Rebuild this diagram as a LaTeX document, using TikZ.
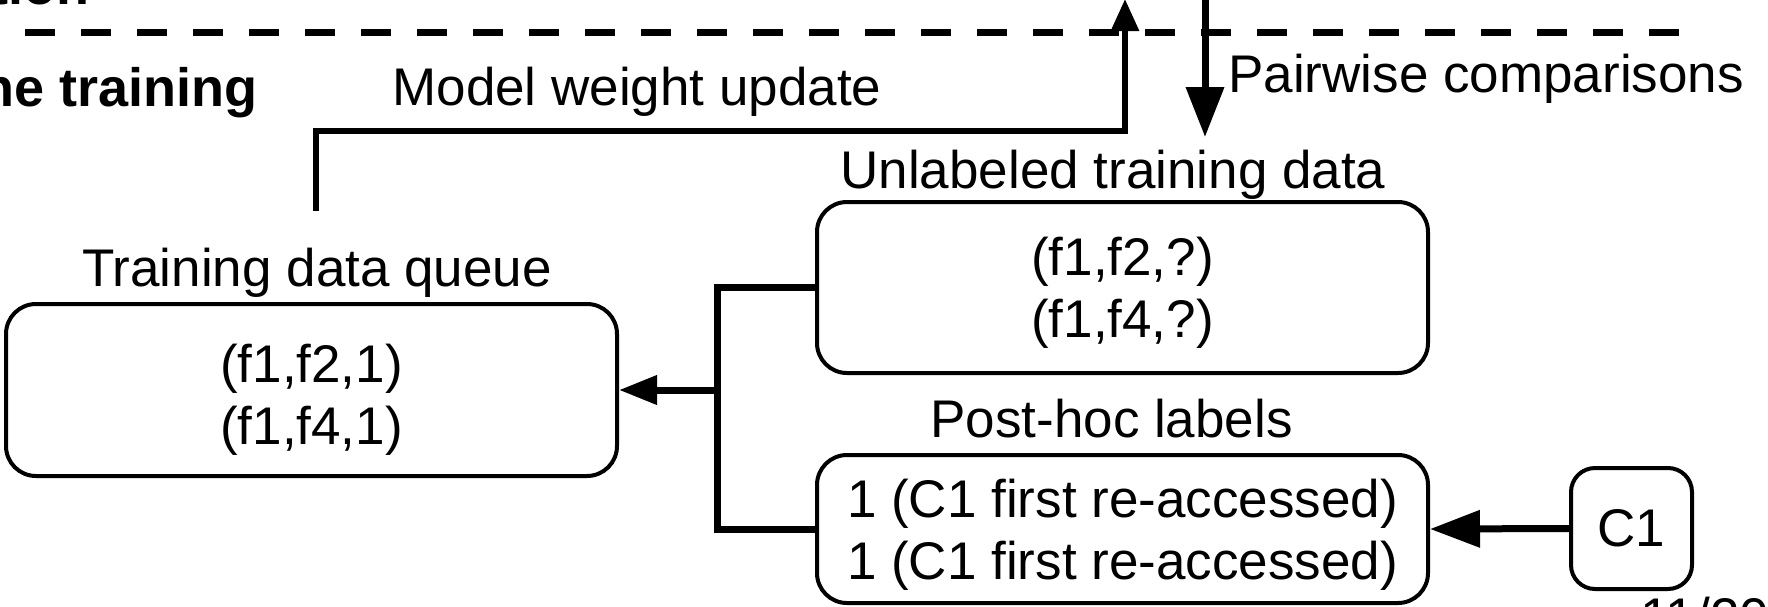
\documentclass[tikz,border=0pt]{standalone}
\usepackage{fontspec}
\setmainfont{Liberation Sans}
\usetikzlibrary{arrows.meta}
\newcommand\diagfont{\fontsize{26.5pt}{31pt}\selectfont}
\newcommand\headfont{\fontsize{27pt}{31pt}\selectfont\bfseries}
\begin{document}
\begin{tikzpicture}[x=0.5pt,y=-0.5pt,
  box/.style={draw, line width=2pt, rounded corners=15pt, inner sep=0pt},
  boxtext/.style={inner sep=0pt, align=center, font=\diagfont},
  lbl/.style={anchor=base west, inner sep=0pt, font=\diagfont},
  head/.style={anchor=base east, inner sep=0pt, font=\headfont},
  conn/.style={line width=3.5pt},
  flow/.style={line width=3pt}]
\useasboundingbox (0,0) rectangle (1768,606);
\clip (0,0) rectangle (1768,606);

% section headings and separator
\node[head] (h0) at (90,4) {tion};
\node[head] (h1) at (258,106) {ne training};
\draw[line width=3.5pt, dash pattern=on 15pt off 13pt] (-31,32.5) -- (1679,32.5);

% data stores
\node[box, minimum width=305.5pt, minimum height=86pt] (queue) at (311.5,390) {};
\node[boxtext] (queueT) at ([yshift=-5pt]queue.center) {(f1,f2,1)\\(f1,f4,1)};
\node[box, minimum width=305.5pt, minimum height=85.5pt] (unl) at (1122.5,287.5) {};
\node[boxtext] (unlT) at ([yshift=-2.5pt]unl.center) {(f1,f2,?)\\(f1,f4,?)};
\node[box, minimum width=305.5pt, minimum height=74pt] (post) at (1122.5,529) {};
\node[boxtext] (postT) at ([yshift=-3pt]post.center)
  {1 (C1 first re-accessed)\\1 (C1 first re-accessed)};
\node[box, rounded corners=12pt, minimum width=60.5pt, minimum height=60.5pt,
  font=\diagfont] (c1) at (1631.5,528.5) {C1};

% captions
\node[lbl] (lq) at (82,286) {Training data queue};
\node[lbl] (lu) at (840,188) {Unlabeled training data};
\node[lbl] (lp) at (930,437) {Post-hoc labels};
\node[lbl] (lm) at (392,105) {Model weight update};
\node[lbl] (lpc) at (1228,92) {Pairwise comparisons};
\node[lbl] (pg) at (1640,635) {11/20};

% model weight update goes up
\coordinate (mwA) at (316,211);
\coordinate (mwBend) at (316,131);
\coordinate (mwB) at (1125,-1);
\draw[flow, -{Triangle[length=16pt,width=13.5pt]}] (mwA) -- (mwBend) -| (mwB);

% pairwise comparisons come down
\coordinate (pcA) at (1205,-10);
\coordinate (pcB) at (1205,137);
\draw[conn, -{Triangle[length=25pt,width=18.5pt]}] (pcA) -- (pcB);

% merge of unlabeled data and labels into the queue
\coordinate (fork) at (717,390);
\draw[conn] (unl.west) -| (fork) |- (post.west);
\draw[conn, -{Triangle[length=19pt,width=14pt]}] (fork) -- (queue.east);
\draw[conn, -{Triangle[length=25pt,width=18pt]}] (c1.west) -- (post.east);
\end{tikzpicture}
\end{document}
